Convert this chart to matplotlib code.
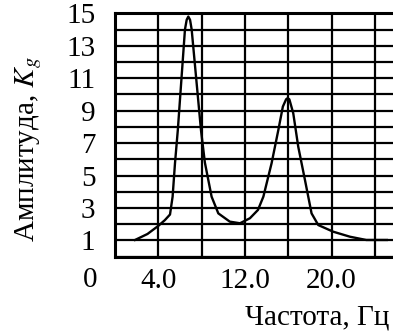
import matplotlib
matplotlib.use("Agg")
import matplotlib.pyplot as plt

plt.rcParams['font.family'] = ['Liberation Serif', 'DejaVu Serif']
plt.rcParams['mathtext.fontset'] = 'stix'

# frequency (Hz) and amplitude K_g
freq = [1.85, 3.0, 4.0, 4.6, 5.08, 5.32, 5.54, 5.8, 6.46, 6.62, 6.77, 6.93, 7.08,
        7.94, 8.3, 8.92, 9.54, 10.6, 11.54, 12.46, 13.2, 13.7, 14.46, 15.08, 15.5,
        15.8, 15.94, 16.1, 16.46, 16.92, 17.54, 18.15, 18.77, 20.15, 21.7, 23.2, 25.1]
ampl = [1.03, 1.4, 1.9, 2.25, 2.6, 3.7, 5.76, 7.8, 14.0, 14.6, 14.8, 14.6, 14.0,
        7.8, 5.8, 3.7, 2.67, 2.16, 2.06, 2.37, 2.88, 3.7, 5.76, 7.8, 9.25,
        9.7, 9.77, 9.7, 8.84, 6.78, 4.73, 2.67, 1.95, 1.54, 1.23, 1.03, 1.03]

xticks = [4.0, 12.0, 20.0]
xtick_labels = ["4.0", "12.0", "20.0"]
xgrid = [0, 4, 8, 12, 16, 20, 24]
yticks = [1, 3, 5, 7, 9, 11, 13, 15]
ygrid = list(range(0, 16))

fs = 21

fig = plt.figure(figsize=(3.93, 3.31), dpi=100)
ax = fig.add_axes([0.2926, 0.2245, 0.7074, 0.7353])

ax.plot(freq, ampl, color='black', lw=1.7, zorder=3)

ax.set_xlim(0, 25.67)
ax.set_ylim(0, 15)
ax.set_xticks(xgrid, minor=True)
ax.set_xticks(xticks)
ax.set_xticklabels(xtick_labels)
ax.set_yticks(ygrid, minor=True)
ax.set_yticks(yticks)
ax.grid(True, which='both', color='black', lw=1.6)
ax.tick_params(which='both', length=0, labelsize=fs)
ax.tick_params(axis='y', pad=14)
ax.tick_params(axis='x', pad=8)

for s in ['left', 'bottom', 'top']:
    ax.spines[s].set_linewidth(2.2)
ax.spines['right'].set_visible(False)

ax.annotate("0", xy=(0, 0), xycoords='axes fraction', xytext=(-18, -17),
            textcoords='offset points', ha='center', va='center', fontsize=fs)

ax.set_ylabel("Амплитуда, $K_g$", fontsize=fs)
ax.yaxis.set_label_coords(-0.255, 0.44)
fig.text(389 / 393, 14 / 331, "Частота, Гц", ha='right', va='center', fontsize=fs)

fig.savefig("out.png", dpi=100)
